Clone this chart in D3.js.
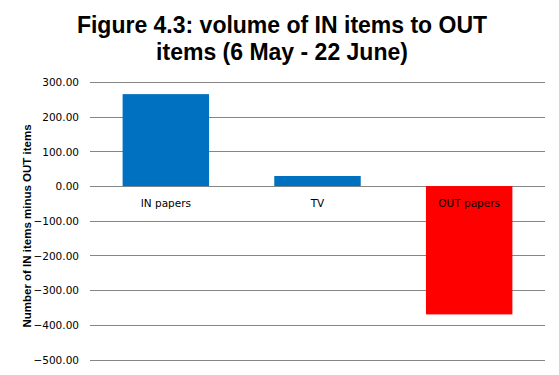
<!DOCTYPE html>
<html><head><meta charset="utf-8">
<script src="https://cdn.jsdelivr.net/npm/d3@7"></script>
<style>body{margin:0;background:#fff}</style>
</head><body>
<svg id="c" width="559" height="375"></svg>
<script>
const categories = ["IN papers", "TV", "OUT papers"];
const values = [265, 29, -370];
const barColors = ["#0070C0", "#0070C0", "#FF0000"];
const yTicks = [300, 200, 100, 0, -100, -200, -300, -400, -500];
const titleLines = ["Figure 4.3: volume of IN items to OUT", "items (6 May - 22 June)"];
const yTitle = "Number of IN items minus OUT items";

const svg = d3.select("#c");
const W = 559, H = 375;
const plotL = 90, plotR = 545;
const y = d3.scaleLinear().domain([-500, 300]).range([359.5, 82]);
const x = d3.scaleBand().domain(categories).range([plotL, plotR]).paddingInner(0.43).paddingOuter(0.215);

svg.append("rect").attr("width", W).attr("height", H).attr("fill", "#fff");

// title
svg.append("g").selectAll("text").data(titleLines).join("text")
  .attr("x", 282).attr("y", (d, i) => 33 + i * 27)
  .attr("text-anchor", "middle")
  .attr("font-family", "Liberation Sans, Arial, sans-serif")
  .attr("font-weight", "bold").attr("font-size", 23)
  .attr("fill", "#000").text(d => d);

// gridlines
svg.append("g").selectAll("line").data(yTicks).join("line")
  .attr("x1", plotL).attr("x2", plotR)
  .attr("y1", d => Math.round(y(d)) + 0.5).attr("y2", d => Math.round(y(d)) + 0.5)
  .attr("stroke", "#868686").attr("stroke-width", 1);

// y axis labels
const yAxis = d3.axisLeft(y).tickValues(yTicks).tickFormat(d3.format(".2f")).tickSize(0).tickPadding(0);
const ya = svg.append("g").attr("transform", `translate(79,0)`).call(yAxis);
ya.select(".domain").remove();
ya.selectAll("text").attr("font-family", "DejaVu Sans, Verdana, sans-serif").attr("font-size", 10.5).attr("fill", "#000").attr("dy", "0.35em");

// bars
svg.append("g").selectAll("rect").data(values).join("rect")
  .attr("x", (d, i) => x(categories[i]))
  .attr("width", x.bandwidth())
  .attr("y", d => y(Math.max(0, d)))
  .attr("height", d => Math.abs(y(d) - y(0)))
  .attr("fill", (d, i) => barColors[i]);

// category labels
svg.append("g").selectAll("text").data(categories).join("text")
  .attr("x", d => x(d) + x.bandwidth() / 2).attr("y", 207)
  .attr("text-anchor", "middle")
  .attr("font-family", "DejaVu Sans, Verdana, sans-serif").attr("font-size", 10.5)
  .attr("fill", "#000").text(d => d);

// y title
svg.append("text")
  .attr("transform", "translate(31,226) rotate(-90)")
  .attr("text-anchor", "middle")
  .attr("font-family", "Liberation Sans, Arial, sans-serif")
  .attr("font-weight", "bold").attr("font-size", 11.5)
  .attr("fill", "#000").text(yTitle);
</script>
</body></html>
